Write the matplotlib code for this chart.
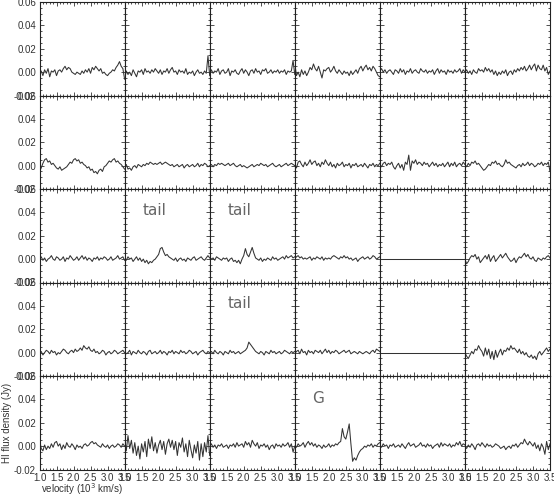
import numpy as np
import matplotlib
matplotlib.use("Agg")
import matplotlib.pyplot as plt
from matplotlib.ticker import MultipleLocator, FormatStrFormatter

# channel velocities (10^3 km/s), same grid for every panel
velocity = np.round(np.arange(1.0, 3.501, 0.05), 2)

# HI flux density per panel, in mJy (row, column)
flux_r1c1 = [-2, 1, -3, 2, -1, 3, -4, 1, 0, 2, -3, 1, 2, 0, 3, 5, 2, 4, 3, 0,
             -1, -2, 0, -1, -2, 1, -1, 2, 0, 3, -1, 4, 2, 5, 3, 1, 3, -1, 0, -2,
             -3, -1, 0, 2, 1, 4, 6, 9, 5, 3, -6]
flux_r1c2 = [-6, 1, -2, 0, -3, 2, -1, -4, 1, 0, 2, -2, 3, 0, 1, -1, 2, 0, 3, 1,
             -1, 2, -2, 1, 0, 3, -1, 2, 4, 0, 1, -2, 2, 0, 1, -1, 3, -2, 0, -1,
             1, -3, 0, 2, -1, 0, -2, 1, -1, 14, -3]
flux_r1c3 = [-2, 2, -1, 1, 0, 3, -2, 1, 2, -1, 0, 3, -3, 1, 0, 2, -1, -2, 1, 3,
             -1, 2, 0, -3, 1, 2, -1, 3, 0, 1, -2, 2, 1, 3, -1, 0, 2, -1, 1, 0,
             2, -1, 1, 0, 2, -2, 1, 0, 1, 10, -2]
flux_r1c4 = [8, -3, 0, -4, 2, -2, 1, -3, 0, 4, 2, 7, 3, 1, 5, 0, -5, 2, 1, 3,
             4, 0, 2, 5, 1, -1, 2, 0, -2, 1, -1, 0, -3, 1, -2, 0, 2, -1, 3, 5,
             1, 4, 6, 2, 4, 1, 5, 3, 0, -3, -4]
flux_r1c5 = [1, 3, 0, 2, -1, 1, 2, 0, -2, 2, 1, -1, 3, 0, 2, -2, 1, 0, 3, -1,
             1, 2, 0, -1, 3, 1, 0, 2, -1, 1, 0, 2, -2, 1, 3, -1, 2, 0, 1, -2,
             2, 0, 1, -1, 2, 0, 1, 3, -1, 2, 0]
flux_r1c6 = [0, 2, -1, 1, -2, 2, 0, -1, 3, 1, 2, 0, 4, 1, 3, 0, 2, -2, 1, -3,
             0, -2, 1, -1, 2, -3, 0, 1, -2, 2, 0, 3, 1, 4, 2, 5, 1, 3, 6, 2,
             5, 7, 1, 6, 3, 2, 6, 1, 4, -2, 1]

flux_r2c1 = [-5, -2, 2, 5, 6, 3, 4, 1, 2, 0, -2, -3, -1, -4, -3, -2, -1, 1, 3, 2,
             5, 6, 4, 5, 2, 3, 1, 0, -2, -1, -4, -3, -6, -5, -7, -4, -3, -5, -1, 0,
             2, 4, 3, 5, 6, 3, 4, 2, 1, -1, -3]
flux_r2c2 = [-1, 1, -3, -2, -4, -1, 0, -2, 1, 0, -1, 1, 0, 2, 1, 3, 2, 1, 2, 1,
             2, 3, 1, 2, 3, 2, 1, 0, 1, -1, 0, 1, -1, 0, 1, -2, 0, 1, -1, 0,
             1, -1, 0, 2, -1, 1, 0, 2, 1, -1, 0]
flux_r2c3 = [0, 1, -1, 1, 0, 2, 1, 2, 1, 0, 1, 2, 0, 1, 2, 0, -1, 0, 1, -1,
             0, -1, -2, -1, 0, 1, -1, 0, 1, 0, 2, 1, 0, 1, -1, 0, 1, 2, 0, -1,
             0, 1, -1, 0, 1, 2, 0, 1, 2, 1, 0]
flux_r2c4 = [2, -2, 3, 4, 1, -1, 3, 0, 2, 5, 1, 3, 4, 0, 2, -1, 3, 1, 5, 2,
             0, 3, -1, 1, -2, 2, 0, 1, 3, -1, 1, 0, 2, -2, 1, 0, 2, -1, 0, 1,
             -1, 2, 0, -2, 1, 0, 2, -1, 1, 0, 2]
flux_r2c5 = [1, -1, 2, 3, 0, 2, 1, 3, -1, -3, 0, 2, -2, 1, -4, 3, 1, 9, -4, 4,
             2, 5, 1, 3, 2, 0, 3, 1, 2, -1, 1, 3, 0, 2, -1, 1, 0, 2, -1, 1,
             3, -1, 2, 0, 3, -1, 1, 2, 0, 3, 1]
flux_r2c6 = [1, -1, 2, 0, 3, 2, 4, 1, 2, 0, -2, -4, -3, -1, 1, 0, 3, 2, 4, 1,
             2, 0, -1, 1, 5, 2, 3, 1, 0, -1, -2, 0, 1, -1, 2, 0, 1, 3, 0, 2,
             1, -1, 0, 2, 1, 3, 0, 2, 1, 3, -5]

flux_r3c1 = [0, 2, -1, 1, -2, 0, 1, 3, 0, -1, 2, 1, -1, 0, 2, -2, 1, 0, 3, 1,
             -1, 0, 2, -1, 1, 3, 0, 2, -1, 1, 0, -2, 1, 0, 2, -1, 1, 0, 2, 1,
             -1, 0, 2, -1, 0, 1, 3, 0, 1, 2, -1]
flux_r3c2 = [1, -1, 2, 0, 1, -2, 0, 2, -1, 1, -2, 0, -3, -1, -4, -2, -3, -1, 0, 2,
             4, 9, 10, 6, 3, 4, 2, 1, 0, -1, 1, -2, 0, 1, -1, 0, -2, 1, 0, -1,
             1, 2, -1, 0, 1, 2, 0, -1, 1, 3, 1]
flux_r3c3 = [2, 0, 1, -1, 2, 1, 0, -1, 1, 0, 1, -2, 0, 1, -2, -1, -3, -1, -4, 0,
             3, 9, 4, 2, 6, 10, 5, 1, 0, -1, 1, -2, 0, -1, 1, 0, -1, 2, 0, 1,
             -1, 0, 1, 2, 0, 3, 1, 2, 3, 1, 2]
flux_r3c4 = [0, 2, 3, 1, 2, 0, 1, 0, 1, 2, -1, 1, 0, 2, 1, 0, 2, -1, 1, 0,
             1, 0, 2, 3, 2, 1, 0, 2, 1, 3, 1, 2, 0, 1, -1, 0, 1, -2, 0, 1,
             2, 0, 1, 2, 0, 1, 3, 2, 0, 1, 2]
flux_r3c5 = [0] * len(velocity)  # blank spectrum
flux_r3c6 = [0, -4, -2, 1, 3, 2, 4, 0, 2, -3, -1, 1, 3, 0, 4, -2, 1, 3, -2, 0,
             2, 4, 1, 3, 5, 2, 0, -2, -1, 1, -3, 0, 2, 1, 3, 5, 2, 4, 1, 0,
             2, -1, -2, 1, 0, -1, 1, 0, 2, 3, 1]

flux_r4c1 = [-1, 1, -2, 0, 2, 1, -1, 2, 0, 1, -2, 0, -1, 1, 3, 2, 0, -1, 1, 2,
             0, 3, 1, 2, 4, 2, 6, 4, 3, 5, 2, 1, 3, 0, 1, -1, 0, 2, 1, -2,
             0, 1, -1, 0, 2, 1, -1, 0, 1, 2, 0]
flux_r4c2 = [1, -1, 0, 2, -2, 1, 0, -1, 2, 0, -1, 1, 0, -2, 1, 2, -1, 0, 1, -1,
             0, 2, -1, 1, 0, -2, 1, 0, 2, -1, 1, 0, -1, 2, 0, 1, -1, 0, 2, 1,
             -1, 0, 1, -2, 0, 1, 2, 0, -1, 1, 0]
flux_r4c3 = [0, 1, -1, 2, 0, -1, 1, 0, -2, 1, 0, -1, 2, 0, 1, -1, 0, 1, -1, 0,
             1, 2, 4, 9, 7, 5, 3, 1, 0, -1, 1, 0, -2, 1, 0, -1, 2, 0, 1, -1,
             0, 1, -1, 0, 2, 1, 0, -1, 1, 0, 1]
flux_r4c4 = [-1, 1, 2, -1, 3, 0, 1, -2, 2, 0, 1, -1, 2, 1, 0, 2, -1, 1, 3, 0,
             2, -1, 1, 0, 2, 1, -1, 0, 1, 2, 0, 1, 2, -1, 0, 1, 0, -1, 1, 0,
             -1, 0, 1, 0, -1, 1, 2, 0, 3, 2, 1]
flux_r4c5 = [0] * len(velocity)  # blank spectrum
flux_r4c6 = [0, -3, -5, -2, 1, -1, 3, 2, 6, 3, 1, -3, 4, -2, 3, -5, 1, -6, 2, -4,
             0, 3, -2, 2, 1, 4, 2, 6, 3, 4, 2, 0, 3, -1, 1, -2, 0, -3, -4, -2,
             -5, -3, -6, -1, 1, -2, 0, 2, 4, 1, 3]

flux_r5c1 = [6, -2, -4, 1, -3, 0, -2, 2, -1, 3, 4, 0, 2, -3, 1, -2, 3, 0, -1, 2,
             0, -3, 1, -1, 0, -2, 1, 2, 0, 1, 3, 4, 2, 3, 1, 0, -1, 2, 0, -1,
             1, -2, 0, 1, -1, 0, 2, 1, -1, 2, 0]
flux_r5c2 = [8, -4, 9, -2, 5, -6, 3, -8, 0, -11, 2, -5, 4, -9, 6, -2, 8, -4, 3, -6,
             1, 5, -3, 4, -7, 2, 6, -1, 5, -3, 4, -8, 3, -1, 7, -5, 2, -9, 5, -3,
             -10, 1, -6, 4, -12, 2, -9, 3, -5, 9, -8]
flux_r5c3 = [0, 2, -1, 1, -2, 1, 0, 2, -1, 0, 1, -2, 1, 0, 2, -1, 3, 0, 1, 2,
             -1, 4, 1, 3, -1, 5, 2, 0, 3, -2, 1, 0, 2, -1, 1, -3, 0, 1, -2, 2,
             0, 1, -1, 2, 0, 1, 3, -1, 2, -5, 0]
flux_r5c4 = [0, -1, 2, 0, 1, 3, -1, 2, 4, 1, 3, 0, 2, -1, 1, 0, -2, 1, -1, 0,
             2, -1, 1, 0, 2, 1, 3, 4, 15, 8, 6, 12, 19, 2, -13, -10, -12, -8, -5, -3,
             -2, 0, -1, 1, 0, 2, -1, 1, 0, 2, 3]
flux_r5c5 = [1, -1, 2, 0, 1, -2, 1, 0, 2, -1, 0, 1, -1, 2, 0, -2, 1, 3, 0, 1,
             2, -1, 0, 1, 3, 0, 1, -1, 2, 0, 1, -2, 0, 1, 2, -1, 3, 0, 2, 1,
             0, 2, -1, 1, 0, 3, 1, 4, 0, 2, 1]
flux_r5c6 = [0, -2, 1, -1, 2, 0, -3, 1, 2, 0, 3, 1, -1, 2, 0, 1, -1, 0, 2, 1,
             0, -2, -1, 0, -3, -1, 0, -2, 1, 0, 2, -1, 1, 3, 2, 6, 3, 1, 4, 2,
             0, 3, -2, 1, -4, 2, -1, -7, 4, -3, 2]

spectra = [
    [flux_r1c1, flux_r1c2, flux_r1c3, flux_r1c4, flux_r1c5, flux_r1c6],
    [flux_r2c1, flux_r2c2, flux_r2c3, flux_r2c4, flux_r2c5, flux_r2c6],
    [flux_r3c1, flux_r3c2, flux_r3c3, flux_r3c4, flux_r3c5, flux_r3c6],
    [flux_r4c1, flux_r4c2, flux_r4c3, flux_r4c4, flux_r4c5, flux_r4c6],
    [flux_r5c1, flux_r5c2, flux_r5c3, flux_r5c4, flux_r5c5, flux_r5c6],
]

# panel annotations: (row, col, text, velocity, flux in Jy)
notes = [(2, 1, "tail", 1.88, 0.042), (2, 2, "tail", 1.88, 0.042),
         (3, 2, "tail", 1.88, 0.042), (4, 3, "G", 1.68, 0.041)]

tick_font = ["Liberation Sans Narrow", "Liberation Sans"]

nrows, ncols = 5, 6
fig, axes = plt.subplots(nrows, ncols, figsize=(5.54, 4.97), dpi=100)
fig.subplots_adjust(left=39.5 / 554, right=550 / 554, top=1 - 2 / 497,
                    bottom=1 - 469.5 / 497, wspace=0, hspace=0)

for r in range(nrows):
    for c in range(ncols):
        ax = axes[r, c]
        flux = np.array(spectra[r][c]) / 1000.0  # mJy -> Jy
        ax.plot(velocity, flux, color="#333333", lw=0.75)
        ax.set_xlim(1.0, 3.5)
        ax.set_ylim(-0.02, 0.06)
        ax.xaxis.set_major_locator(MultipleLocator(0.5))
        ax.xaxis.set_minor_locator(MultipleLocator(0.1))
        ax.yaxis.set_major_locator(MultipleLocator(0.02))
        ax.yaxis.set_minor_locator(MultipleLocator(0.005))
        ax.xaxis.set_major_formatter(FormatStrFormatter("%.1f"))
        ax.yaxis.set_major_formatter(FormatStrFormatter("%.2f"))
        ax.tick_params(which="both", direction="in", top=True, right=True,
                       labelsize=7, width=0.6, colors="#333333", pad=2.5)
        ax.tick_params(which="major", length=3.2)
        ax.tick_params(which="minor", length=1.6)
        for lbl in ax.get_xticklabels() + ax.get_yticklabels():
            lbl.set_family(tick_font)
        for sp in ax.spines.values():
            sp.set_linewidth(0.8)
            sp.set_color("#222222")
        if c != 0:
            ax.tick_params(labelleft=False)
        if r != nrows - 1:
            ax.tick_params(labelbottom=False)

for r, c, txt, v, f in notes:
    axes[r, c].text(v, f, txt, fontsize=11, color="#666666",
                    ha="center", va="center")

ax0 = axes[-1, 0]
ax0.set_ylabel("HI flux density (Jy)", fontsize=7, color="#333333", family=tick_font)
ax0.yaxis.set_label_coords(-0.32, 0.5)
ax0.set_xlabel("velocity (10$^3$ km/s)", fontsize=7, color="#333333", family=tick_font)
ax0.xaxis.set_label_coords(0.5, -0.13)

fig.savefig("out.png", dpi=100)
